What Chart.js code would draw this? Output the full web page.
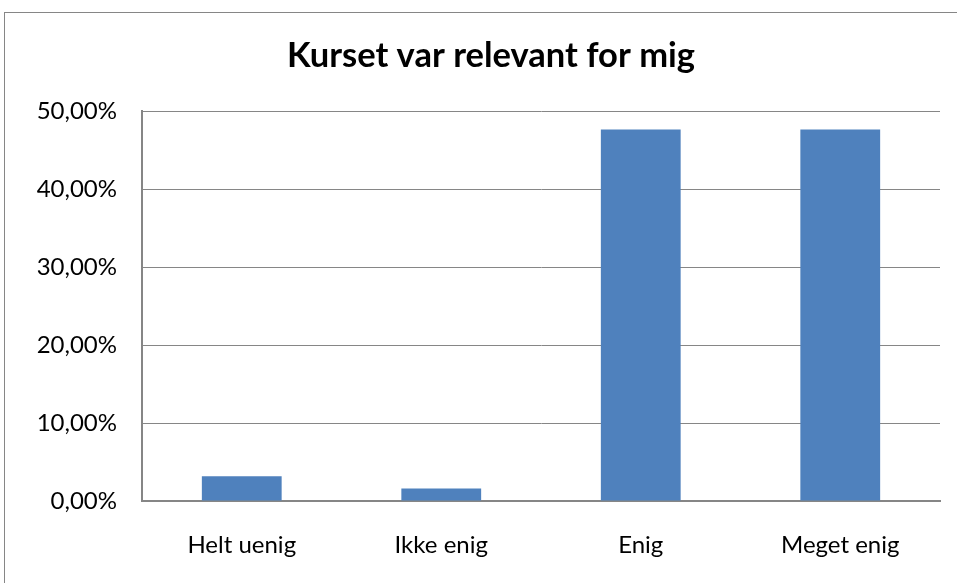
<!DOCTYPE html>
<html><head><meta charset="utf-8">
<script src="https://cdn.jsdelivr.net/npm/chart.js@4/dist/chart.umd.min.js"></script>
<style>html,body{margin:0;padding:0;background:#fff;overflow:hidden}#wrap{position:absolute;left:0;top:0;width:957px;height:583px}</style>
</head><body><div id="wrap"><canvas id="c" width="957" height="583"></canvas></div>
<script>
const categories = ["Helt uenig", "Ikke enig", "Enig", "Meget enig"];
const values = [3.17, 1.59, 47.62, 47.62];
const titleText = "Kurset var relevant for mig";
const yMin = 0, yMax = 50, yStep = 10;

const FONT = "Lato, 'Open Sans', sans-serif";

const framePlugin = {
  id: 'frame',
  beforeDraw(chart) {
    const ctx = chart.ctx;
    ctx.save();
    ctx.fillStyle = '#fff';
    ctx.fillRect(0, 0, chart.width, chart.height);
    ctx.strokeStyle = '#868686';
    ctx.lineWidth = 1;
    ctx.strokeRect(4.5, 12.5, 1000, 1000);
    ctx.restore();
  },
  afterDraw(chart) {
    const ctx = chart.ctx;
    ctx.save();
    ctx.fillStyle = '#000';
    ctx.font = "bold 34.5px " + FONT;
    ctx.textAlign = 'center';
    ctx.textBaseline = 'alphabetic';
    ctx.fillText(titleText, 491, 67);
    ctx.restore();
  }
};

new Chart(document.getElementById('c'), {
  type: 'bar',
  data: {
    labels: categories,
    datasets: [{ data: values, backgroundColor: '#4F81BD', borderWidth: 0,
      categoryPercentage: 0.4, barPercentage: 1.0 }]
  },
  options: {
    responsive: false, animation: false,
    layout: { padding: { left: 0, right: 17, top: 111, bottom: 0 } },
    plugins: { legend: { display: false }, tooltip: { enabled: false } },
    scales: {
      x: {
        grid: { display: false, drawTicks: false },
        border: { display: true, color: '#868686', width: 2 },
        ticks: { color: '#000', font: { family: FONT, size: 24 }, padding: 30 },
        afterFit(s) { s.height = 82; }
      },
      y: {
        min: yMin, max: yMax,
        grid: { color: '#868686', lineWidth: 1, drawTicks: false },
        border: { display: true, color: '#868686', width: 2 },
        ticks: { stepSize: yStep, color: '#000', font: { family: FONT, size: 24 }, padding: 25,
          callback: v => v.toFixed(2).replace('.', ',') + '%' },
        afterFit(s) { s.width = 142; }
      }
    }
  },
  plugins: [framePlugin]
});
</script></body></html>
